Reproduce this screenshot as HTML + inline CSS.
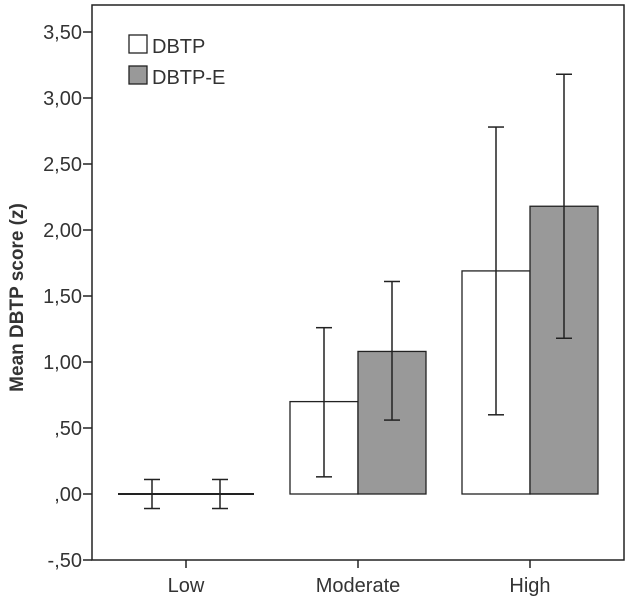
<!DOCTYPE html>
<html><head><meta charset="utf-8"><style>
body{margin:0;background:#fff}
svg text{font-family:"Liberation Sans",Arial,sans-serif;fill:#333}
</style></head><body>
<svg id="c" width="633" height="602"></svg>
<script>
const categories=["Low","Moderate","High"];
const seriesNames=["DBTP","DBTP-E"];
const dbtpMean=[0,0.70,1.69];
const dbtpLow=[-0.11,0.13,0.60];
const dbtpHigh=[0.11,1.26,2.78];
const dbtpeMean=[0,1.08,2.18];
const dbtpeLow=[-0.11,0.56,1.18];
const dbtpeHigh=[0.11,1.61,3.18];
const yTicks=[-0.5,0,0.5,1,1.5,2,2.5,3,3.5];
const yTickLabels=["-,50",",00",",50","1,00","1,50","2,00","2,50","3,00","3,50"];

const NS="http://www.w3.org/2000/svg";
const svg=document.getElementById('c');
const L=92,R=624,T=5,B=560;
const y=v=>494-v*132;
const xc=i=>186+i*172;
const bw=68;
function mk(t,a,p){const e=document.createElementNS(NS,t);for(const k in a)e.setAttribute(k,a[k]);(p||svg).appendChild(e);return e;}
const frame=mk('rect',{x:L,y:T,width:R-L,height:B-T,fill:'none',stroke:'#222','stroke-width':1.5});


yTicks.forEach((v,i)=>{
  const t=mk('line',{x1:L-9,x2:L,y1:y(v),y2:y(v),stroke:'#222','stroke-width':1.5});
  
  
  const l=mk('text',{x:L-10,y:y(v)+7,'text-anchor':'end','font-size':20});
  l.textContent=yTickLabels[i];
  
  
});
const yt=mk('text',{x:0,y:0,'text-anchor':'middle','font-size':19,'font-weight':'bold',transform:'translate(23,'+((T+B)/2+15)+') rotate(-90)'});
yt.textContent="Mean DBTP score (z)";


const means=[dbtpMean,dbtpeMean],lows=[dbtpLow,dbtpeLow],highs=[dbtpHigh,dbtpeHigh],fills=['#fff','#999'];
categories.forEach((c,i)=>{
  const t=mk('line',{x1:xc(i),x2:xc(i),y1:B,y2:B+8,stroke:'#222','stroke-width':1.5});
  
  
  const l=mk('text',{x:xc(i),y:B+32,'text-anchor':'middle','font-size':20});
  l.textContent=c;
  
  
  for(let s=0;s<2;s++){
    const x0=xc(i)-bw+s*bw, m=means[s][i];
    const top=Math.min(y(m),y(0)),h=Math.abs(y(m)-y(0));
    if(h>0.5){
      const b=mk('rect',{x:x0,y:top,width:bw,height:h,fill:fills[s],stroke:'#222','stroke-width':1.3});
      
      
    }else{
      const b=mk('line',{x1:x0,x2:x0+bw,y1:y(0),y2:y(0),stroke:'#222','stroke-width':2});
      
      
    }
    const cx=x0+bw/2,g=mk('g',{stroke:'#222','stroke-width':1.5});
    
    
    mk('line',{x1:cx,x2:cx,y1:y(lows[s][i]),y2:y(highs[s][i])},g);
    mk('line',{x1:cx-8,x2:cx+8,y1:y(lows[s][i]),y2:y(lows[s][i])},g);
    mk('line',{x1:cx-8,x2:cx+8,y1:y(highs[s][i]),y2:y(highs[s][i])},g);
  }
});
seriesNames.forEach((n,s)=>{
  const g=mk('g',{});
  
  
  mk('rect',{x:129,y:35+s*31,width:18,height:18,fill:fills[s],stroke:'#222','stroke-width':1.3},g);
  const t=mk('text',{x:152,y:53+s*31,'font-size':20},g);t.textContent=n;
});
</script>
</body></html>
